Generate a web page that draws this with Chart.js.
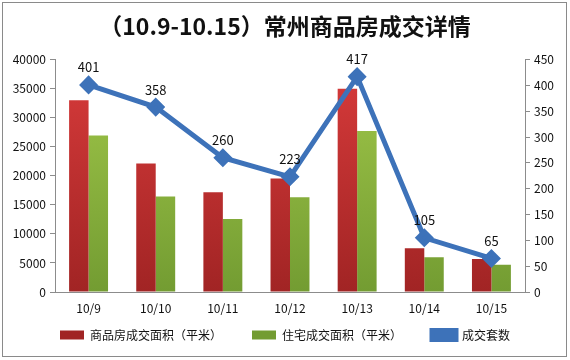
<!DOCTYPE html>
<html>
<head>
<meta charset="utf-8">
<script src="https://cdn.jsdelivr.net/npm/chart.js@4.4.1/dist/chart.umd.min.js"></script>
<style>
  html, body { margin: 0; padding: 0; background: #fff; }
  #wrap { width: 570px; height: 360px; position: relative; }
</style>
</head>
<body>
<div id="wrap"><canvas id="dealChart" width="570" height="360"></canvas></div>
<script>
const Dates = ['10/9', '10/10', '10/11', '10/12', '10/13', '10/14', '10/15'];
const Commercial_Area = [33000, 22100, 17150, 19550, 35000, 7550, 5700];
const Residential_Area = [26950, 16450, 12550, 16300, 27700, 6000, 4700];
const Deal_Units = [401, 358, 260, 223, 417, 105, 65];
const Left_Ticks = [0, 5000, 10000, 15000, 20000, 25000, 30000, 35000, 40000];
const Right_Ticks = [0, 50, 100, 150, 200, 250, 300, 350, 400, 450];

const Font_Main = "'Noto Sans CJK SC', 'Noto Sans', sans-serif";

function Bar_Fill(Top_Color, Bottom_Color) {
    return (Ctx_Info) => {
        const Area = Ctx_Info.chart.chartArea;
        if (!Area) return Top_Color;
        const G = Ctx_Info.chart.ctx.createLinearGradient(0, Area.top, 0, Area.bottom);
        G.addColorStop(0, Top_Color);
        G.addColorStop(1, Bottom_Color);
        return G;
    };
}

// value labels above the line points, legend nudge, outer frame
const Extra_Draw = {
    id: 'extraDraw',
    afterLayout(Chart_Obj) {
        const L = Chart_Obj.legend;
        if (!L) return;
        const Dy = 299 - L.top;
        L.top += Dy;
        L.bottom += Dy;
    },
    afterDatasetsDraw(Chart_Obj) {
        const C = Chart_Obj.ctx;
        const Meta = Chart_Obj.getDatasetMeta(2);
        C.save();
        C.font = "13px " + Font_Main;
        C.fillStyle = '#111';
        C.textAlign = 'center';
        C.textBaseline = 'bottom';
        Meta.data.forEach((Pt, i) => {
            C.fillText(String(Deal_Units[i]), Pt.x, Pt.y - 11);
        });
        C.restore();
    },
    afterDraw(Chart_Obj) {
        const C = Chart_Obj.ctx;
        C.save();
        C.strokeStyle = '#8a8a8a';
        C.lineWidth = 1;
        C.strokeRect(2.5, 2.5, 564, 354);
        C.restore();
    }
};

const Plain_Tick = (V) => String(V);

new Chart(document.getElementById('dealChart'), {
    type: 'bar',
    data: {
        labels: Dates,
        datasets: [
            {
                label: '商品房成交面积（平米）',
                data: Commercial_Area,
                backgroundColor: Bar_Fill('#d83b3b', '#a12424'),
                yAxisID: 'y',
                categoryPercentage: 0.58,
                barPercentage: 1.0,
                order: 2
            },
            {
                label: '住宅成交面积（平米）',
                data: Residential_Area,
                backgroundColor: Bar_Fill('#a2c84a', '#739c32'),
                yAxisID: 'y',
                categoryPercentage: 0.58,
                barPercentage: 1.0,
                order: 2
            },
            {
                type: 'line',
                label: '成交套数',
                data: Deal_Units,
                yAxisID: 'y1',
                borderColor: '#3d72b9',
                backgroundColor: '#3d72b9',
                borderWidth: 5,
                pointStyle: 'rectRot',
                pointRadius: 6,
                pointBackgroundColor: '#3d72b9',
                pointBorderColor: '#3d72b9',
                tension: 0,
                order: 0
            }
        ]
    },
    options: {
        responsive: false,
        animation: false,
        devicePixelRatio: 1,
        layout: { padding: { left: 0, right: 0, top: 0, bottom: -12 } },
        plugins: {
            title: {
                display: true,
                text: '（10.9-10.15）常州商品房成交详情',
                color: '#111',
                font: { family: Font_Main, size: 23, weight: 'bold' },
                padding: { top: 12, bottom: 20 }
            },
            legend: {
                position: 'bottom',
                labels: {
                    color: '#111',
                    font: { family: Font_Main, size: 12 },
                    boxWidth: 24,
                    boxHeight: 9,
                    padding: 30,
                    sort: (A, B) => A.datasetIndex - B.datasetIndex
                }
            },
            tooltip: { enabled: false }
        },
        scales: {
            x: {
                grid: { display: false },
                border: { display: true, color: '#8c8c8c' },
                afterFit: (Ax) => { Ax.height = 28; },
                ticks: { color: '#111', font: { family: Font_Main, size: 12 }, padding: 1 }
            },
            y: {
                position: 'left',
                min: 0,
                max: 40000,
                afterBuildTicks: (Ax) => { Ax.ticks = Left_Ticks.map(v => ({ value: v })); },
                afterFit: (Ax) => { Ax.width = 55; },
                grid: { drawOnChartArea: false, drawTicks: true, tickLength: 5, color: '#8c8c8c' },
                border: { color: '#8c8c8c' },
                ticks: { color: '#111', font: { family: Font_Main, size: 12 }, padding: 4, callback: Plain_Tick }
            },
            y1: {
                position: 'right',
                min: 0,
                max: 450,
                afterBuildTicks: (Ax) => { Ax.ticks = Right_Ticks.map(v => ({ value: v })); },
                afterFit: (Ax) => { Ax.width = 45; },
                grid: { drawOnChartArea: false, drawTicks: true, tickLength: 5, color: '#8c8c8c' },
                border: { color: '#8c8c8c' },
                ticks: { color: '#111', font: { family: Font_Main, size: 12 }, padding: 4, callback: Plain_Tick }
            }
        }
    },
    plugins: [Extra_Draw]
});
</script>
</body>
</html>
